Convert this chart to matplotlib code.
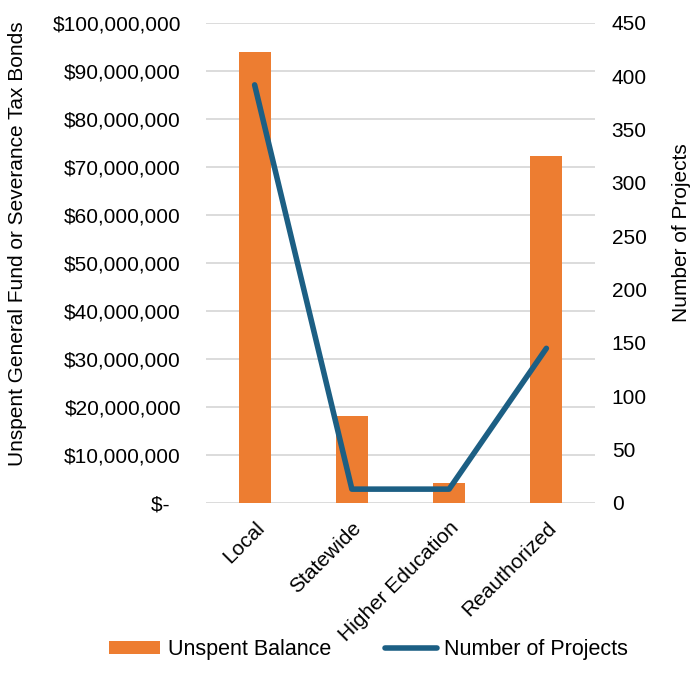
import numpy as np
import matplotlib.pyplot as plt
from matplotlib.ticker import FuncFormatter

plt.rcParams['font.family'] = ['Liberation Sans', 'DejaVu Sans']

# data
categories = ['Local', 'Statewide', 'Higher Education', 'Reauthorized']
unspent = [94000000, 18100000, 4200000, 72300000]
projects = [392, 13, 13, 145]

orange = '#ED7D31'
blue = '#1C5F84'
fs = 15

fig = plt.figure(figsize=(6.99, 6.90), dpi=100)
ax = fig.add_axes([206 / 699, 1 - 503 / 690, 389 / 699, 480 / 690])
ax2 = ax.twinx()

x = np.arange(len(categories))
bars = ax.bar(x, unspent, width=0.33, color=orange, label='Unspent Balance', zorder=2)
line, = ax2.plot(x, projects, color=blue, lw=4, solid_capstyle='round',
                 label='Number of Projects', zorder=3)

ax.set_xlim(-0.5, len(categories) - 0.5)
ax.set_ylim(0, 100000000)
ax.set_yticks(np.arange(0, 100000001, 10000000))
ax2.set_ylim(0, 450)
ax2.set_yticks(np.arange(0, 451, 50))


def money(v, pos):
    if v == 0:
        return '$-  '
    return '${:,.0f}'.format(v)


ax.yaxis.set_major_formatter(FuncFormatter(money))
ax.grid(axis='y', color='#d9d9d9', lw=1.3, zorder=0)
ax.set_axisbelow(True)

for a in (ax, ax2):
    for s in a.spines.values():
        s.set_visible(False)
    a.tick_params(length=0, labelsize=fs)

ax.set_xticks(x)
ax.set_xticklabels(categories, rotation=45, ha='right', rotation_mode='anchor', fontsize=fs)
ax.tick_params(axis='x', pad=11)
ax.tick_params(axis='y', pad=18)
ax2.tick_params(axis='y', pad=12)

ax.set_ylabel('Unspent General Fund or Severance Tax Bonds', fontsize=15)
ax.yaxis.set_label_coords(-0.46, 0.54)
ax2.set_ylabel('Number of Projects', fontsize=15)
ax2.yaxis.set_label_coords(1.197, 0.5625)

fig.legend([bars, line], ['Unspent Balance', 'Number of Projects'],
           loc='center', bbox_to_anchor=(0.527, 1 - 650 / 690), ncol=2, frameon=False,
           fontsize=15.5, handlelength=2.4, handleheight=0.55, columnspacing=2.5,
           handletextpad=0.35)

fig.savefig('out.png', dpi=100)
